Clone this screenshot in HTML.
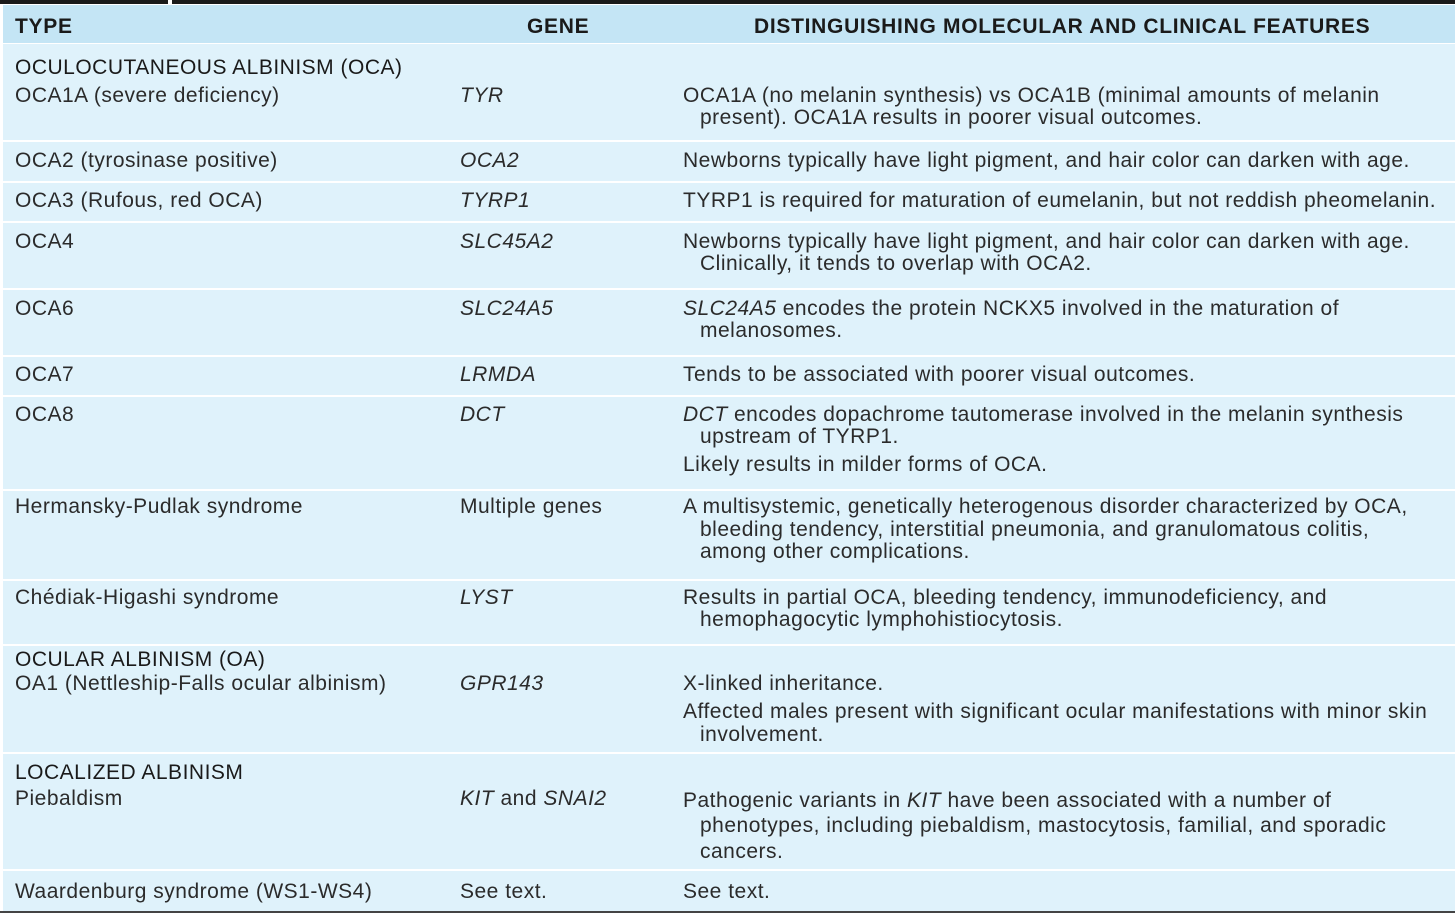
<!DOCTYPE html>
<html><head><meta charset="utf-8"><style>
body{margin:0;width:1455px;height:919px;background:#fff;position:relative;overflow:hidden;font-family:"Liberation Sans",sans-serif;color:#2b2b2b}
.bar{position:absolute;top:0;height:4px;background:#1a1a1a}
.row{position:absolute;left:3px;width:1452px;background:#dff2fb}
.hdr{position:absolute;left:3px;width:1452px;top:5px;height:38px;background:#c4e5f5}
.t{position:absolute;font-size:21px;line-height:22px;white-space:nowrap;letter-spacing:0.5px}
.h{font-weight:bold;color:#1a1a1a;font-size:21px;letter-spacing:0.7px}
i{font-style:italic}
</style></head><body>
<div class="bar" style="left:0;width:168px"></div>
<div class="bar" style="left:172px;width:1283px"></div>
<div class="hdr"></div>
<div class="t h" style="left:15px;top:16px">TYPE</div>
<div class="t h" style="left:527px;top:16px">GENE</div>
<div class="t h" style="left:754px;top:16px">DISTINGUISHING MOLECULAR AND CLINICAL FEATURES</div>

<div class="row" style="top:44px;height:96px"></div>
<div class="row" style="top:142px;height:39px"></div>
<div class="row" style="top:183px;height:38px"></div>
<div class="row" style="top:223px;height:65px"></div>
<div class="row" style="top:290px;height:65px"></div>
<div class="row" style="top:357px;height:38px"></div>
<div class="row" style="top:397px;height:92px"></div>
<div class="row" style="top:491px;height:88px"></div>
<div class="row" style="top:581px;height:63px"></div>
<div class="row" style="top:646px;height:106px"></div>
<div class="row" style="top:754px;height:115px"></div>
<div class="row" style="top:871px;height:40px"></div>
<div class="bar" style="left:0;width:1455px;top:911px;height:2px;background:#444"></div>

<div class="t" style="left:15px;top:57px;color:#1a1a1a">OCULOCUTANEOUS ALBINISM (OCA)</div>
<div class="t" style="left:15px;top:85px">OCA1A (severe deficiency)</div>
<div class="t" style="left:460px;top:85px"><i>TYR</i></div>
<div class="t" style="left:683px;top:85px">OCA1A (no melanin synthesis) vs OCA1B (minimal amounts of melanin</div>
<div class="t" style="left:700px;top:107px">present). OCA1A results in poorer visual outcomes.</div>

<div class="t" style="left:15px;top:150px">OCA2 (tyrosinase positive)</div>
<div class="t" style="left:460px;top:150px"><i>OCA2</i></div>
<div class="t" style="left:683px;top:150px">Newborns typically have light pigment, and hair color can darken with age.</div>

<div class="t" style="left:15px;top:190px">OCA3 (Rufous, red OCA)</div>
<div class="t" style="left:460px;top:190px"><i>TYRP1</i></div>
<div class="t" style="left:683px;top:190px">TYRP1 is required for maturation of eumelanin, but not reddish pheomelanin.</div>

<div class="t" style="left:15px;top:231px">OCA4</div>
<div class="t" style="left:460px;top:231px"><i>SLC45A2</i></div>
<div class="t" style="left:683px;top:231px">Newborns typically have light pigment, and hair color can darken with age.</div>
<div class="t" style="left:700px;top:253px">Clinically, it tends to overlap with OCA2.</div>

<div class="t" style="left:15px;top:298px">OCA6</div>
<div class="t" style="left:460px;top:298px"><i>SLC24A5</i></div>
<div class="t" style="left:683px;top:298px"><i>SLC24A5</i> encodes the protein NCKX5 involved in the maturation of</div>
<div class="t" style="left:700px;top:320px">melanosomes.</div>

<div class="t" style="left:15px;top:364px">OCA7</div>
<div class="t" style="left:460px;top:364px"><i>LRMDA</i></div>
<div class="t" style="left:683px;top:364px">Tends to be associated with poorer visual outcomes.</div>

<div class="t" style="left:15px;top:404px">OCA8</div>
<div class="t" style="left:460px;top:404px"><i>DCT</i></div>
<div class="t" style="left:683px;top:404px"><i>DCT</i> encodes dopachrome tautomerase involved in the melanin synthesis</div>
<div class="t" style="left:700px;top:426px">upstream of TYRP1.</div>
<div class="t" style="left:683px;top:454px">Likely results in milder forms of OCA.</div>

<div class="t" style="left:15px;top:496px">Hermansky-Pudlak syndrome</div>
<div class="t" style="left:460px;top:496px">Multiple genes</div>
<div class="t" style="left:683px;top:496px">A multisystemic, genetically heterogenous disorder characterized by OCA,</div>
<div class="t" style="left:700px;top:519px">bleeding tendency, interstitial pneumonia, and granulomatous colitis,</div>
<div class="t" style="left:700px;top:541px">among other complications.</div>

<div class="t" style="left:15px;top:587px">Chédiak-Higashi syndrome</div>
<div class="t" style="left:460px;top:587px"><i>LYST</i></div>
<div class="t" style="left:683px;top:587px">Results in partial OCA, bleeding tendency, immunodeficiency, and</div>
<div class="t" style="left:700px;top:609px">hemophagocytic lymphohistiocytosis.</div>

<div class="t" style="left:15px;top:649px;color:#1a1a1a">OCULAR ALBINISM (OA)</div>
<div class="t" style="left:15px;top:673px">OA1 (Nettleship-Falls ocular albinism)</div>
<div class="t" style="left:460px;top:673px"><i>GPR143</i></div>
<div class="t" style="left:683px;top:673px">X-linked inheritance.</div>
<div class="t" style="left:683px;top:701px">Affected males present with significant ocular manifestations with minor skin</div>
<div class="t" style="left:700px;top:724px">involvement.</div>

<div class="t" style="left:15px;top:762px;color:#1a1a1a">LOCALIZED ALBINISM</div>
<div class="t" style="left:15px;top:788px">Piebaldism</div>
<div class="t" style="left:460px;top:788px"><i>KIT</i> and <i>SNAI2</i></div>
<div class="t" style="left:683px;top:790px">Pathogenic variants in <i>KIT</i> have been associated with a number of</div>
<div class="t" style="left:700px;top:815px">phenotypes, including piebaldism, mastocytosis, familial, and sporadic</div>
<div class="t" style="left:700px;top:841px">cancers.</div>

<div class="t" style="left:15px;top:881px">Waardenburg syndrome (WS1-WS4)</div>
<div class="t" style="left:460px;top:881px">See text.</div>
<div class="t" style="left:683px;top:881px">See text.</div>
</body></html>
